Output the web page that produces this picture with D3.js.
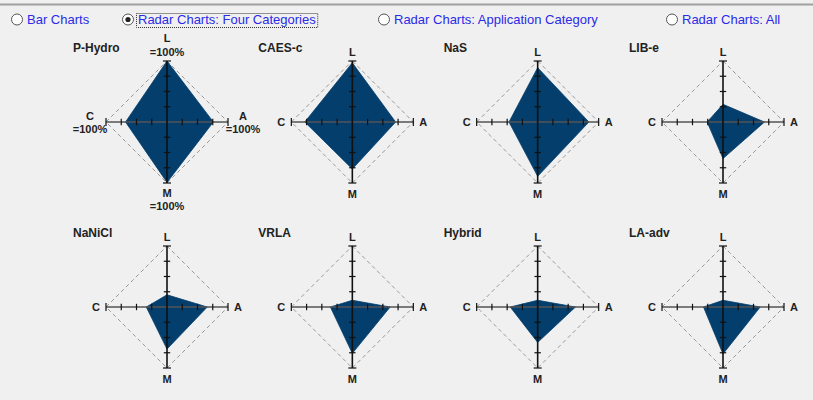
<!DOCTYPE html>
<html><head><meta charset="utf-8">
<script src="https://cdn.jsdelivr.net/npm/d3@7"></script>
<style>html,body{margin:0;padding:0;background:#f0f0f0;}svg{display:block;}</style>
</head><body>
<svg id="c" width="813" height="400"></svg>
<script>
// ---- data ----
const radioOptions = ["Bar Charts", "Radar Charts: Four Categories", "Radar Charts: Application Category", "Radar Charts: All"];
const selectedOption = 1;
const technologies = ["P-Hydro", "CAES-c", "NaS", "LIB-e", "NaNiCl", "VRLA", "Hybrid", "LA-adv"];
const axisNames = ["L", "A", "M", "C"];          // top, right, bottom, left
const maxNote = "=100%";
const showMaxNote = [true, false, false, false, false, false, false, false];
const valuesL = [100, 97, 89, 29, 20, 11, 11, 11];
const valuesA = [76, 71, 84, 68, 66, 62, 62, 61];
const valuesM = [99, 77, 89, 60, 69, 76, 58, 77];
const valuesC = [68, 78, 47, 26, 34, 36, 45, 32];
const tickValues = [25, 50, 75, 100];

// ---- layout ----
const svg = d3.select("#c");
const W = 813, H = 400;
svg.append("rect").attr("width", W).attr("height", H).attr("fill", "#f0f0f0");
svg.append("line").attr("x1", 0).attr("x2", W).attr("y1", 4.5).attr("y2", 4.5)
  .attr("stroke", "#a0a0a0").attr("stroke-width", 2);

// radio buttons
const radioX = d3.scaleOrdinal().domain(radioOptions).range([17, 128, 384, 672]);
const rg = svg.append("g").attr("font-family", "Liberation Sans, Arial, sans-serif").attr("font-size", 13);
radioOptions.forEach((opt, i) => {
  const x = radioX(opt);
  rg.append("circle").attr("cx", x).attr("cy", 19.5).attr("r", 5.5)
    .attr("fill", "#fff").attr("stroke", "#555").attr("stroke-width", 1);
  if (i === selectedOption) {
    rg.append("circle").attr("cx", x).attr("cy", 19.5).attr("r", 2.6).attr("fill", "#222");
  }
  const t = rg.append("text").attr("x", x + 10).attr("y", 24).attr("fill", "#2a2ae8").text(opt);
  if (i === selectedOption) {
    const bb = t.node().getBBox();
    rg.append("rect").attr("x", bb.x - 1.5).attr("y", 13.5).attr("width", bb.width + 3).attr("height", 14)
      .attr("fill", "none").attr("stroke", "#333").attr("stroke-width", 1).attr("stroke-dasharray", "1,1");
  }
});

// grid of radar charts
const colX = d3.scalePoint().domain([0, 1, 2, 3]).range([167, 723]);
const rowY = d3.scalePoint().domain([0, 1]).range([122, 307]);
const R = 61;
const r = d3.scaleLinear().domain([0, 100]).range([0, R]);
const angles = [0, Math.PI / 2, Math.PI, 3 * Math.PI / 2]; // L, A, M, C (clockwise from top)
const radial = d3.lineRadial().angle((d, i) => angles[i]).radius(d => r(d)).curve(d3.curveLinearClosed);

technologies.forEach((name, k) => {
  const cx = colX(k % 4), cy = rowY(Math.floor(k / 4));
  const g = svg.append("g").attr("transform", `translate(${cx},${cy})`);
  const vals = [valuesL[k], valuesA[k], valuesM[k], valuesC[k]];

  // dashed outline at 100%
  const outline = [100, 100, 100, 100];
  g.append("path").attr("d", radial(outline)).attr("fill", "none")
    .attr("stroke", "#9a9a9a").attr("stroke-width", 1).attr("stroke-dasharray", "4,3");

  // value polygon
  g.append("path").attr("d", radial(vals)).attr("fill", "#033e6c").attr("stroke", "#033e6c").attr("stroke-width", 0.8);

  // axes
  g.append("line").attr("x1", -r(100)).attr("x2", r(100)).attr("y1", 0).attr("y2", 0)
    .attr("stroke", "#555").attr("stroke-width", 1.6);
  g.append("line").attr("x1", 0).attr("x2", 0).attr("y1", -r(100)).attr("y2", r(100))
    .attr("stroke", "#111").attr("stroke-width", 1.6);

  // ticks
  tickValues.forEach(t => {
    const h = t === 100 ? 4 : 3.2;
    const d = r(t);
    [[d, 0], [-d, 0]].forEach(([x]) => g.append("line").attr("x1", x).attr("x2", x).attr("y1", -h).attr("y2", h)
      .attr("stroke", "#111").attr("stroke-width", 1.2));
    [d, -d].forEach(y => g.append("line").attr("y1", y).attr("y2", y).attr("x1", -h).attr("x2", h)
      .attr("stroke", "#111").attr("stroke-width", 1.2));
  });

  // title
  g.append("text").attr("x", -94).attr("y", -70).attr("font-family", "Liberation Sans, Arial, sans-serif")
    .attr("font-weight", "bold").attr("font-size", 12).attr("fill", "#222").text(name);

  // axis labels
  const lab = g.append("g").attr("font-family", "Liberation Sans, Arial, sans-serif")
    .attr("font-weight", "bold").attr("font-size", 11).attr("fill", "#222").attr("text-anchor", "middle");
  const note = showMaxNote[k];
  const edge = r(100);
  if (!note) {
    lab.append("text").attr("x", 0).attr("y", -edge - 5).text(axisNames[0]);
    lab.append("text").attr("x", edge + 10).attr("y", 4).text(axisNames[1]);
    lab.append("text").attr("x", 0).attr("y", edge + 14.5).text(axisNames[2]);
    lab.append("text").attr("x", -edge - 10).attr("y", 4).text(axisNames[3]);
  } else {
    lab.append("text").attr("x", 0).attr("y", -edge - 19).text(axisNames[0]);
    lab.append("text").attr("x", 0).attr("y", -edge - 5).text(maxNote);
    lab.append("text").attr("x", edge + 15).attr("y", -2).text(axisNames[1]);
    lab.append("text").attr("x", edge + 15).attr("y", 11).text(maxNote);
    lab.append("text").attr("x", 0).attr("y", edge + 13.5).text(axisNames[2]);
    lab.append("text").attr("x", 0).attr("y", edge + 26.5).text(maxNote);
    lab.append("text").attr("x", -edge - 16).attr("y", -2).text(axisNames[3]);
    lab.append("text").attr("x", -edge - 16).attr("y", 11).text(maxNote);
  }
});
</script>
</body></html>
